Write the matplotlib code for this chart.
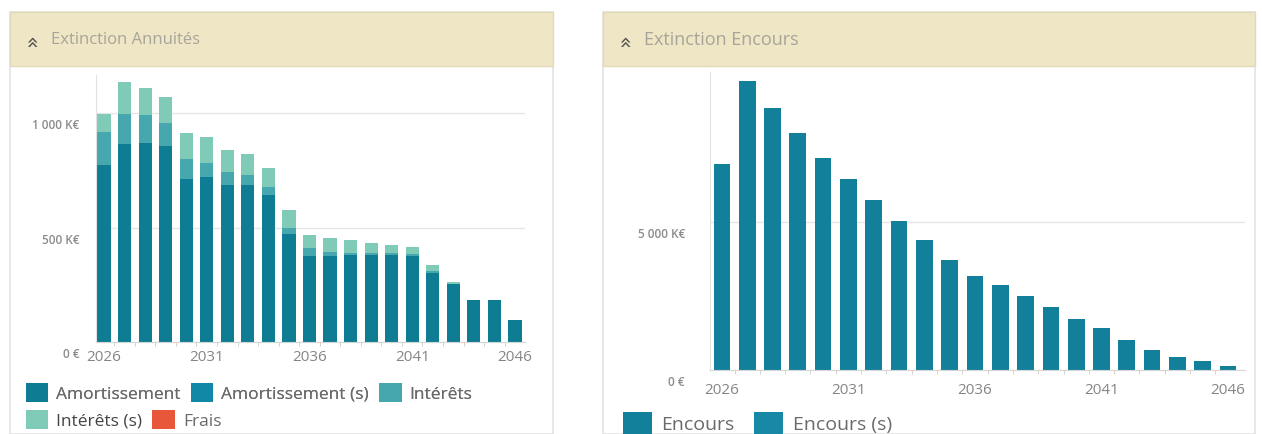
import numpy as np
import matplotlib
matplotlib.use("Agg")
import matplotlib.pyplot as plt
import matplotlib.patches as mpatches
import matplotlib.transforms as mtrans

plt.rcParams['font.family'] = ['Open Sans', 'DejaVu Sans']

#--------------------------------------------------------------------
# data (k€)

years = list(range(2026, 2047))

amortissement = [775, 863, 869, 855, 713, 720, 684, 684, 641, 470, 376,
                 377, 382, 382, 382, 376, 300, 252, 183, 183, 96]
amortissement_s = [0] * 21
interets = [142, 134, 121, 103, 88, 63, 58, 47, 36, 30, 33,
            18, 6, 6, 6, 9, 10, 3, 0, 0, 0]
interets_s = [80, 138, 119, 112, 112, 112, 95, 89, 85, 78, 59,
              61, 58, 43, 36, 32, 26, 5, 0, 0, 0]
frais = [0] * 21

encours = [6970, 9775, 8870, 8025, 7175, 6465, 5740, 5030, 4385, 3730, 3195,
           2878, 2506, 2122, 1738, 1411, 1016, 689, 451, 316, 147]
encours_s = [0] * 21

left_labels = ["Amortissement", "Amortissement (s)", "Intérêts", "Intérêts (s)", "Frais"]
left_colors = ["#0e7d93", "#1088a6", "#46a8ae", "#80cbb8", "#e8573a"]
right_labels = ["Encours", "Encours (s)"]
right_colors = ["#12809a", "#1789a6"]

#--------------------------------------------------------------------
W, H = 1262, 434

def box(x0, y0, x1, y1):
    # pixel box (top-left origin) -> figure fraction rect
    return [x0 / W, 1 - y1 / H, (x1 - x0) / W, (y1 - y0) / H]

fig = plt.figure(figsize=(W / 100, H / 100), dpi=100)
fig.patch.set_facecolor("white")

####### panels with the beige header
def panel(x0, x1, title, size):
    r = mpatches.Rectangle((x0 / W, 0), (x1 - x0) / W, 1 - 12 / H,
                           transform=fig.transFigure, facecolor="white",
                           edgecolor="#e3e3e3", lw=1.2, zorder=0)
    fig.add_artist(r)
    hd = mpatches.Rectangle((x0 / W, 1 - 66 / H), (x1 - x0) / W, 54 / H,
                            transform=fig.transFigure, facecolor="#efe6c6",
                            edgecolor="#e2d9b6", lw=1.0, zorder=1)
    fig.add_artist(hd)
    fig.text((x0 + 21) / W, 1 - 40 / H, "»", rotation=90, fontsize=15,
             color="#55554f", ha="center", va="center", family="DejaVu Sans")
    fig.text((x0 + 41) / W, 1 - 40 / H, title, fontsize=size, color="#a7a59a",
             ha="left", va="center")

panel(10, 553, "Extinction Annuités", 12)
panel(603, 1255, "Extinction Encours", 13)

####### common axis styling
def style(ax, yticks, ylabels, label_pad, ypad):
    for s in ["top", "right"]:
        ax.spines[s].set_visible(False)
    ax.spines["left"].set_color("#e2e2e2")
    ax.spines["bottom"].set_color("#d6d6d6")
    ax.set_yticks(yticks)
    ax.set_yticklabels(ylabels)
    ax.yaxis.grid(True, color="#e6e6e6", lw=1)
    ax.set_axisbelow(True)
    ax.tick_params(axis="y", length=0, labelsize=8.5, labelcolor="#8c8c8c", pad=ypad)
    for lab in ax.get_yticklabels():
        lab.set_fontweight("semibold")
    ax.set_xticks(years[::5])
    ax.set_xticks([yr + 0.5 for yr in years[:-1]], minor=True)
    ax.tick_params(axis="x", which="major", length=0, labelsize=11,
                   labelcolor="#858585", pad=label_pad)
    ax.tick_params(axis="x", which="minor", length=3, color="#cccccc")
    off = mtrans.ScaledTranslation(0, -8 / 72, fig.dpi_scale_trans)
    for lab in ax.get_yticklabels():
        lab.set_transform(lab.get_transform() + off)

#--------------------------------------------------------------------
# left chart: stacked annuities
ax1 = fig.add_axes(box(96, 75, 525, 342))
series = [amortissement, amortissement_s, interets, interets_s, frais]
bottom = np.zeros(len(years))
bars_left = []
for vals, lab, col in zip(series, left_labels, left_colors):
    b = ax1.bar(years, vals, width=0.64, bottom=bottom, color=col, label=lab)
    bars_left.append(b)
    bottom += np.array(vals)
ax1.set_xlim(2025.61, 2046.49)
ax1.set_ylim(0, 1166)
style(ax1, [0, 500, 1000], ["0 €", "500 K€", "1 000 K€"], 6, 12)

# two legend rows
kw = dict(loc="center left", frameon=False, fontsize=12.5, handlelength=1.3,
          handleheight=1.3, handletextpad=0.45, columnspacing=0.6,
          labelcolor="#6a6a6a")
leg1 = fig.legend(bars_left[:3], left_labels[:3], ncol=3,
                  bbox_to_anchor=(10 / W, 1 - 393 / H), **kw)
leg2 = fig.legend(bars_left[3:], left_labels[3:], ncol=2,
                  bbox_to_anchor=(10 / W, 1 - 420 / H), **kw)
leg2.get_texts()[0].set_color("#444444")
fig.add_artist(leg1)

#--------------------------------------------------------------------
# right chart: outstanding capital
ax2 = fig.add_axes(box(710, 72, 1245, 370))
bars_right = []
for vals, lab, col in zip([encours, encours_s], right_labels, right_colors):
    bars_right.append(ax2.bar(years, vals, width=0.66, color=col, label=lab))
ax2.set_xlim(2025.53, 2046.67)
ax2.set_ylim(0, 10088)
style(ax2, [0, 5000], ["0 €", "5 000 K€"], 9, 18)

fig.legend(bars_right, right_labels, loc="center left",
           bbox_to_anchor=(605 / W, 1 - 423 / H), ncol=2, frameon=False,
           fontsize=14, handlelength=1.5, handleheight=1.3,
           handletextpad=0.5, columnspacing=1.0, labelcolor="#6a6a6a")

fig.savefig("out.png", dpi=100)
